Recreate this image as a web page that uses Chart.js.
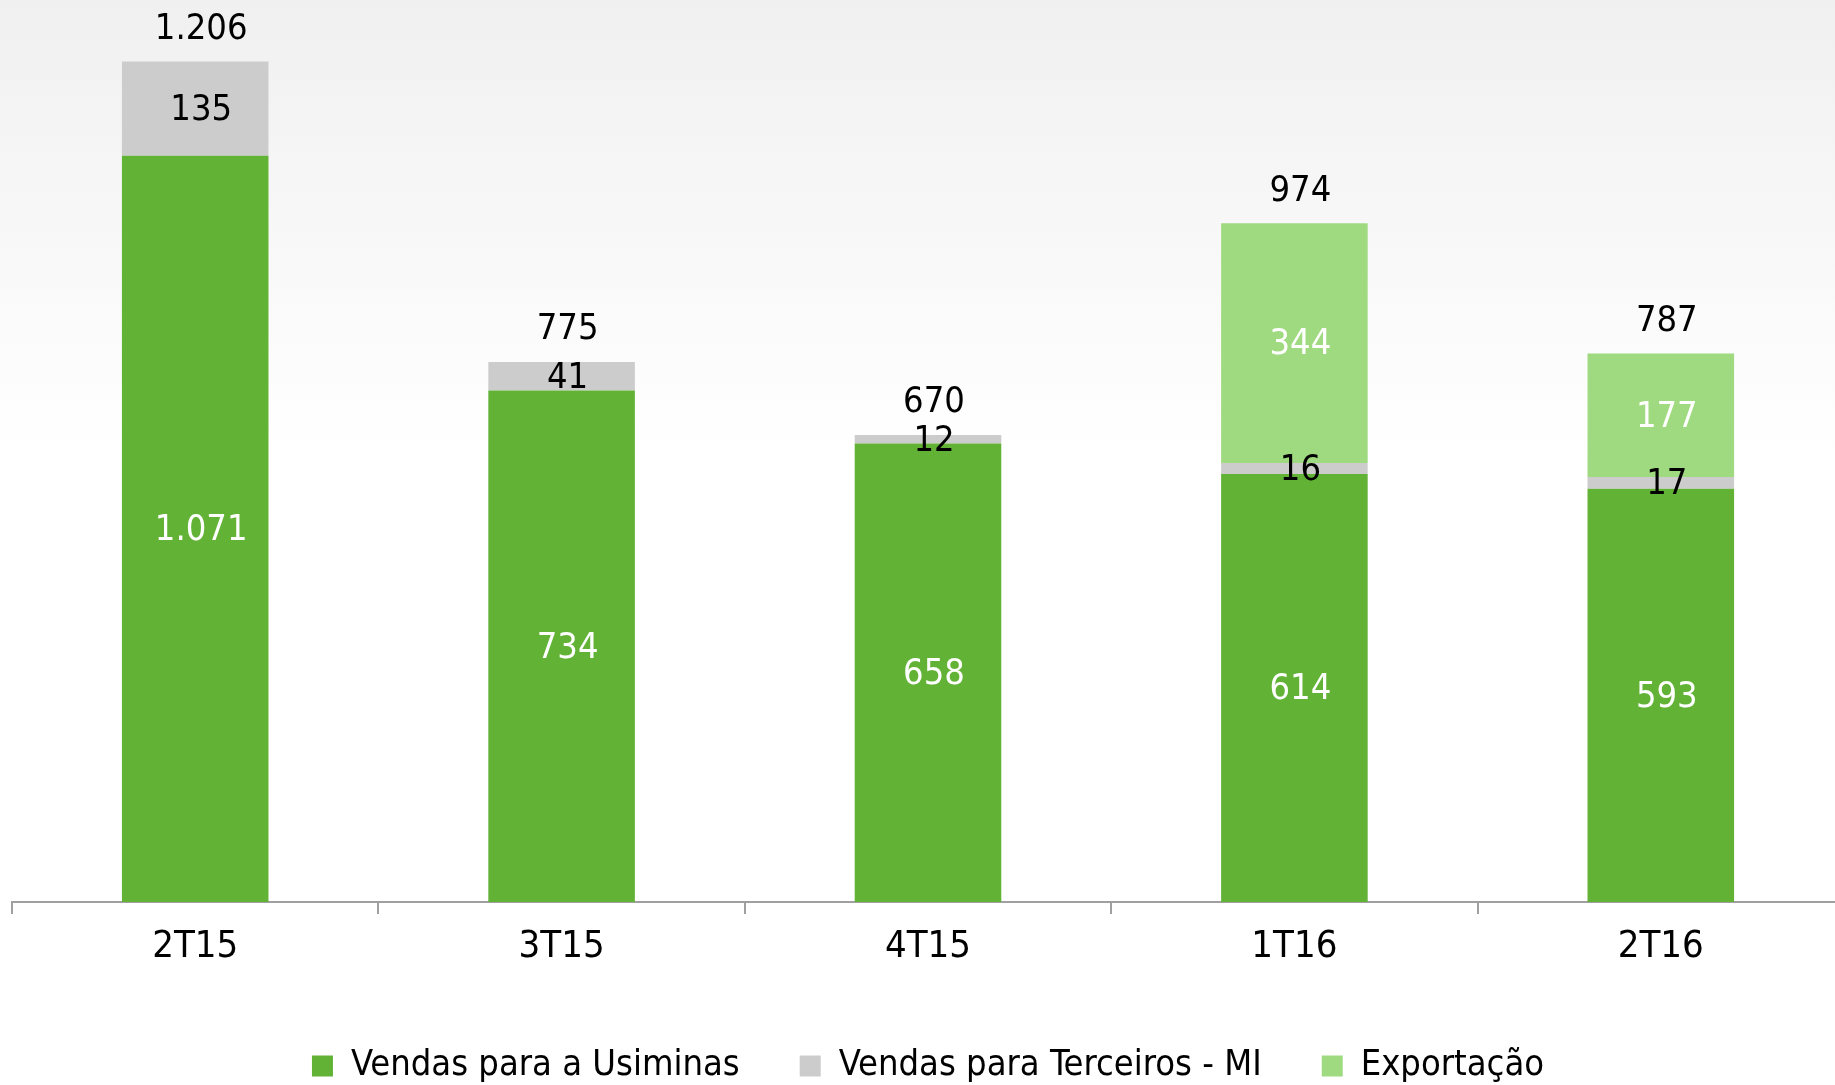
<!DOCTYPE html>
<html lang="pt">
<head>
<meta charset="UTF-8">
<title>Vendas</title>
<style>
  html, body { margin: 0; padding: 0; overflow: hidden; }
  body {
    width: 1835px;
    height: 1085px;
    background: linear-gradient(180deg, #f0f0f0 0%, #f8f8f8 22%, #ffffff 42%);
  }
  .chart-wrap { position: relative; width: 1845px; height: 1085px; }
</style>
</head>
<body>
<div class="chart-wrap"><canvas id="salesChart" width="1845" height="1085"></canvas></div>
<script src="https://cdn.jsdelivr.net/npm/chart.js"></script>
<script>
  // data
  const quarters = ['2T15', '3T15', '4T15', '1T16', '2T16'];
  const vendasUsiminas = [1071, 734, 658, 614, 593];
  const vendasTerceiros = [135, 41, 12, 16, 17];
  const exportacao = [null, null, null, 344, 177];
  const seriesNames = ['Vendas para a Usiminas', 'Vendas para Terceiros - MI', 'Exportação'];

  const fontFamily = "'DejaVu Sans Condensed', 'Liberation Sans Narrow', sans-serif";
  const colors = ['#62b236', '#cccccc', '#a0da80'];
  const labelColors = ['#ffffff', '#000000', '#ffffff'];

  // 1206 -> "1.206"
  function fmt(v) {
    return String(v).replace(/\B(?=(\d{3})+(?!\d))/g, '.');
  }

  // draws the value inside each segment and the total above each bar
  const valueLabels = {
    id: 'valueLabels',
    afterDatasetsDraw(chart) {
      const ctx = chart.ctx;
      ctx.save();
      ctx.font = '36px ' + fontFamily;
      ctx.textAlign = 'center';
      ctx.textBaseline = 'middle';
      chart.data.datasets.forEach((ds, i) => {
        const meta = chart.getDatasetMeta(i);
        meta.data.forEach((bar, j) => {
          const v = ds.data[j];
          if (v == null) return;
          ctx.fillStyle = labelColors[i];
          ctx.fillText(fmt(v), bar.x + 6, (bar.y + bar.base) / 2 + 2);
        });
      });
      const yScale = chart.scales.y;
      const xScale = chart.scales.x;
      quarters.forEach((q, j) => {
        const total = vendasUsiminas[j] + vendasTerceiros[j] + (exportacao[j] || 0);
        ctx.fillStyle = '#000000';
        ctx.fillText(fmt(total), xScale.getPixelForValue(j) + 6, yScale.getPixelForValue(total) - 32);
      });
      ctx.restore();
    }
  };

  // the legend needs wide gaps between items but not the tall box that padding gives
  const legendHeight = {
    id: 'legendHeight',
    beforeLayout(chart) {
      const legend = chart.legend;
      if (legend && !legend._fixed) {
        const fit = legend.fit.bind(legend);
        legend.fit = function () { fit(); this.height = 97; };
        legend._fixed = true;
      }
    }
  };

  const ctx = document.getElementById('salesChart').getContext('2d');
  new Chart(ctx, {
    type: 'bar',
    data: {
      labels: quarters,
      datasets: [
        { label: seriesNames[0], data: vendasUsiminas, backgroundColor: colors[0] },
        { label: seriesNames[1], data: vendasTerceiros, backgroundColor: colors[1] },
        { label: seriesNames[2], data: exportacao, backgroundColor: colors[2] }
      ]
    },
    options: {
      responsive: false,
      animation: false,
      categoryPercentage: 1,
      barPercentage: 0.4,
      layout: { padding: { top: 10, left: 12, right: 1, bottom: 0 } },
      scales: {
        x: {
          stacked: true,
          grid: { display: true, drawOnChartArea: false, tickLength: 12, color: '#a0a0a0', lineWidth: 2 },
          border: { display: true, color: '#a0a0a0', width: 2 },
          ticks: { color: '#000000', padding: 10, font: { family: fontFamily, size: 38 } },
          afterFit(scale) { scale.height = 86; }
        },
        y: {
          stacked: true,
          display: false,
          min: 0,
          max: 1280
        }
      },
      plugins: {
        legend: {
          position: 'bottom',
          labels: {
            color: '#000000',
            boxWidth: 21,
            boxHeight: 21,
            padding: 60,
            font: { family: fontFamily, size: 36 }
          }
        },
        tooltip: { enabled: false }
      }
    },
    plugins: [valueLabels, legendHeight]
  });
</script>
</body>
</html>
